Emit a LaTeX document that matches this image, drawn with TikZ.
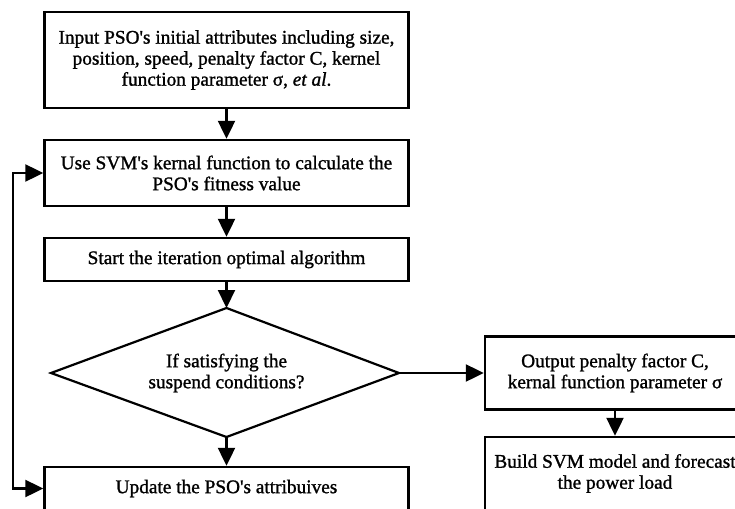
\documentclass[tikz,border=0pt]{standalone}
\usepackage{fontspec}
\setmainfont{Liberation Serif}[Ligatures=TeXOff, FakeBold=1.2]
\usetikzlibrary{arrows.meta}
\begin{document}
\begin{tikzpicture}[x=1pt,y=-1pt,
  every node/.style={font=\fontsize{19.3}{21}\selectfont},
  stepbox/.style={draw, line width=2.4pt, align=center, inner sep=0pt},
  label/.style={align=center, inner sep=0pt},
  flow/.style={line width=2.2pt, -{Triangle[length=18pt,width=17pt]}},
  loopflow/.style={line width=2.2pt, {Triangle[length=18pt,width=17pt]}-{Triangle[length=18pt,width=17pt]}}]
\useasboundingbox (0,0) rectangle (735,508);
\clip (0,0) rectangle (735,508);

% main column
\node[stepbox, minimum width=364pt, minimum height=96pt] (input) at (226.5,60)
  {Input PSO's initial attributes including size,\\position, speed, penalty factor C, kernel\\function parameter σ, \textit{et al}.};
\node[stepbox, minimum width=364pt, minimum height=66pt] (fitness) at (226.5,173)
  {Use SVM's kernal function to calculate the\\PSO's fitness value};
\node[stepbox, minimum width=364pt, minimum height=43pt] (iter) at (226.5,259.5)
  {Start the iteration optimal algorithm};

% decision diamond
\coordinate (cn) at (226.5,308);
\coordinate (cs) at (226.5,437);
\coordinate (cw) at (51,373);
\coordinate (ce) at (399,373);
\draw[line width=2.2pt, line join=miter] (cn) -- (ce) -- (cs) -- (cw) -- cycle;
\node[label] (cond) at (226.5,373) {If satisfying the\\suspend conditions?};

\node[stepbox, minimum width=364pt, minimum height=43pt] (update) at (226.5,488.5)
  {Update the PSO's attribuives};

% right column
\node[stepbox, minimum width=260pt, minimum height=73pt] (output) at (615,373)
  {Output penalty factor C,\\kernal function parameter σ};
\node[stepbox, minimum width=260pt, minimum height=73pt] (model) at (615,473.5)
  {Build SVM model and forecast\\the power load};

% connectors
\coordinate (rail) at (13,0);
\draw[flow] (input) -- (fitness);
\draw[flow] (fitness) -- (iter);
\draw[flow] (iter.south) -- (cn);
\draw[flow] (cs) -- (update.north);
\draw[flow] (ce) -- (output.west);
\draw[flow] (output.south) -- (model.north);
\draw[loopflow] (fitness.west) -- (rail |- fitness.west) -- (rail |- update.west) -- (update.west);
\end{tikzpicture}
\end{document}
